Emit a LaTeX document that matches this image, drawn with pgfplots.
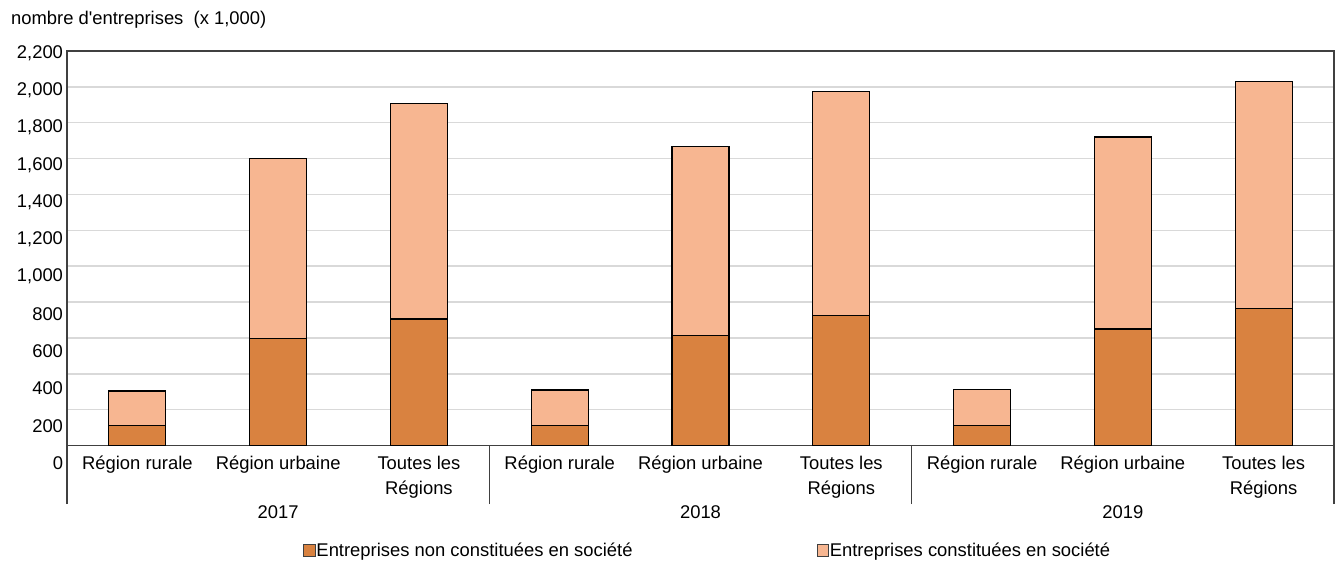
\documentclass[border=0pt]{standalone}
\usepackage{fontspec}
\setmainfont{Liberation Sans}
\usepackage{pgfplots}
\pgfplotsset{compat=1.18}
\usepackage{pgfplotstable}

\definecolor{nonconst}{RGB}{217,130,64}
\definecolor{const}{RGB}{247,182,145}
\definecolor{gridgray}{RGB}{217,217,217}
\definecolor{axisgray}{RGB}{64,64,64}

\newcommand\chartfont{\fontsize{18.4bp}{25bp}\selectfont}

% x, non constituees (dark), constituees (light)
\pgfplotstableread{
x  dark  light
0  110   194
1  596   1006
2  706   1200
3  110   200
4  615   1051
5  727   1249
6  113   198
7  650   1070
8  765   1267
}\entreprises

\begin{document}
\begin{tikzpicture}[font=\chartfont]
\begin{axis}[
    name=ax,
    scale only axis,
    width=1267bp, height=394.5bp,
    ybar stacked,
    bar width=57bp,
    xmin=-0.5, xmax=8.5,
    ymin=0, ymax=2200,
    ytick={0,200,...,2200},
    xtick=data,
    xticklabels={Région rurale, Région urbaine, {Toutes les\\Régions},
                 Région rurale, Région urbaine, {Toutes les\\Régions},
                 Région rurale, Région urbaine, {Toutes les\\Régions}},
    xticklabel style={align=center, anchor=north, yshift=-7bp},
    yticklabel style={anchor=east, xshift=-0.5bp, yshift={-17.5+1.4*\ticknum}},
    /pgf/number format/1000 sep={,},
    /pgf/number format/assume math mode=true,
    major tick length=0pt,
    xtick pos=bottom, ytick pos=left,
    ymajorgrids,
    grid style={gridgray, line width=1.5bp},
    axis line style={axisgray, line width=1.5bp},
    extra x ticks={-0.5,2.5,5.5,8.5},
    extra x tick labels=\empty,
    extra x tick style={
        tick align=outside,
        xtick style={/pgfplots/major tick length=58.5bp, axisgray, line width=1.3bp},
    },
    clip=false,
    legend columns=2,
    legend style={at={(0.1839,-0.266)}, anchor=west, draw=none, fill=none,
        /tikz/every even column/.append style={column sep=183bp},
        nodes={inner xsep=1bp}},
    legend image code/.code={
        \draw[#1, draw=black!75, line width=0.8bp] (0bp,-5.5bp) rectangle (11.5bp,6bp);},
]
\addplot[fill=nonconst, draw=black, line width=1.2bp] table[x=x, y=dark] {\entreprises};
\addplot[fill=const, draw=black, line width=1.2bp] table[x=x, y=light] {\entreprises};
\legend{Entreprises non constituées en société, Entreprises constituées en société}

\node at (axis cs:1,0) [yshift=-66.5bp] {2017};
\node at (axis cs:4,0) [yshift=-66.5bp] {2018};
\node at (axis cs:7,0) [yshift=-66.5bp] {2019};
\node at (rel axis cs:0,1) [anchor=base west, inner sep=0pt, xshift=-56bp, yshift=26bp]
    {nombre d\textquotesingle entreprises~ (x 1,000)};
\end{axis}
\path (ax.south west) ++(-67bp,-115.5bp) coordinate (bl);
\path (ax.north east) ++(2bp,51bp) coordinate (tr);
\pgfresetboundingbox
\path (bl) rectangle (tr);
\end{tikzpicture}
\end{document}
